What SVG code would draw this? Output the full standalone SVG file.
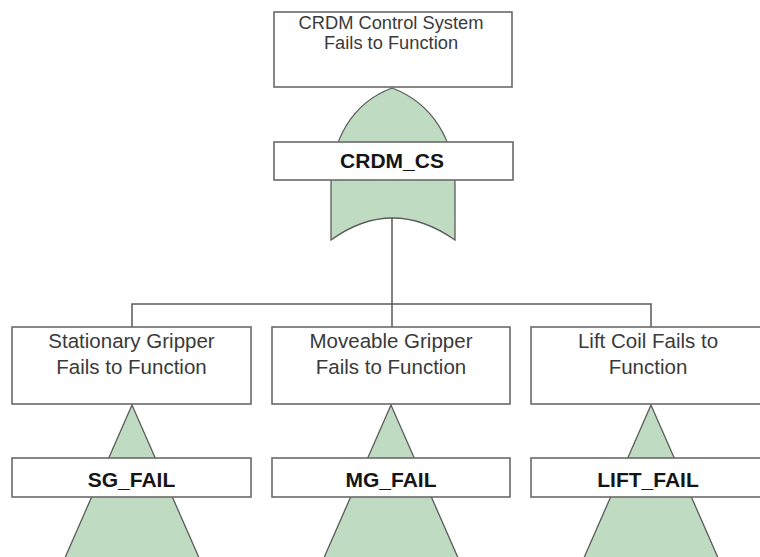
<svg xmlns="http://www.w3.org/2000/svg" width="760" height="557" viewBox="0 0 760 557">
<style>
.box{fill:#fff;stroke:#6a6a6a;stroke-width:1.6}
.gate{fill:#bfdcc3;stroke:#5a5a5a;stroke-width:1.3}
.wire{fill:none;stroke:#5a5a5a;stroke-width:1.5}
.desc{font-family:"Liberation Sans",Arial,sans-serif;font-size:20.5px;fill:#3a3a3a;text-anchor:middle}
.desc-top{font-family:"Liberation Sans",Arial,sans-serif;font-size:18.3px;fill:#3a3a3a;text-anchor:middle}
.lbl{font-family:"Liberation Sans",Arial,sans-serif;font-size:21px;font-weight:bold;fill:#151515;text-anchor:middle}
</style>
<rect width="760" height="557" fill="#fff"/>
<g id="connectors">
<path class="wire" d="M392 218 V304 M132 327 V304 H651 V327 M392 304 V327"/>
</g>
<g id="CRDM_CS">
<rect class="box" x="274" y="12" width="238" height="75"/>
<text class="desc-top" x="391" y="28.5">CRDM Control System</text>
<text class="desc-top" x="391" y="48.5">Fails to Function</text>
<path class="gate" d="M392 88 C352 103 331 140 331 185 L331 240 Q392 196 455 240 L455 185 C455 140 432 103 392 88 Z"/>
<rect class="box" x="274" y="142" width="239" height="38"/>
<text class="lbl" x="392" y="167.5">CRDM_CS</text>
</g>
<g id="SG_FAIL">
<rect class="box" x="12" y="327" width="239" height="77"/>
<text class="desc" x="131.5" y="348">Stationary Gripper</text>
<text class="desc" x="131.5" y="374">Fails to Function</text>
<path class="gate" d="M132 405 L64 560 L200 560 Z"/>
<rect class="box" x="12" y="458" width="239" height="39"/>
<text class="lbl" x="131.5" y="487">SG_FAIL</text>
</g>
<g id="MG_FAIL">
<rect class="box" x="272" y="327" width="238" height="77"/>
<text class="desc" x="391" y="348">Moveable Gripper</text>
<text class="desc" x="391" y="374">Fails to Function</text>
<path class="gate" d="M391 405 L323 560 L459 560 Z"/>
<rect class="box" x="272" y="458" width="238" height="39"/>
<text class="lbl" x="391" y="487">MG_FAIL</text>
</g>
<g id="LIFT_FAIL">
<rect class="box" x="531" y="327" width="240" height="77"/>
<text class="desc" x="648" y="348">Lift Coil Fails to</text>
<text class="desc" x="648" y="374">Function</text>
<path class="gate" d="M651 405 L583 560 L719 560 Z"/>
<rect class="box" x="531" y="458" width="240" height="39"/>
<text class="lbl" x="648" y="487">LIFT_FAIL</text>
</g>
</svg>
